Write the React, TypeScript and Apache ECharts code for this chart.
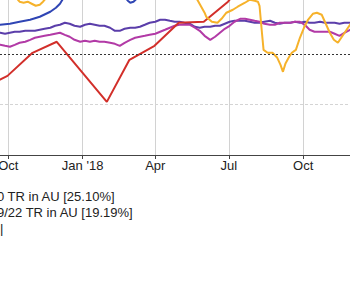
import React, { useEffect, useRef } from 'react';
import * as echarts from 'echarts';

// ---------- data ----------
const TICK_DATES = ['2017-10-01', '2018-01-01', '2018-04-01', '2018-07-01', '2018-10-01'];
const TICK_LABELS = ['Oct', "Jan '18", 'Apr', 'Jul', 'Oct'];

const LEGEND_LINES = ['0 TR in AU [25.10%]', '9/22 TR in AU [19.19%]', '|'];

const SHARED_DATES = [
  '2017-08-27', '2017-09-08',
  '2017-09-21', '2017-09-27',
  '2017-10-03', '2017-10-09', '2017-10-15', '2017-10-22', '2017-10-28',
  '2017-11-03', '2017-11-09', '2017-11-15', '2017-11-22', '2017-11-28',
  '2017-12-04', '2017-12-10', '2017-12-16', '2017-12-22', '2017-12-29',
  '2018-01-04', '2018-01-10', '2018-01-16', '2018-01-22', '2018-01-28',
  '2018-02-04', '2018-02-10', '2018-02-16', '2018-02-22',
  '2018-03-01', '2018-03-07', '2018-03-13', '2018-03-19', '2018-03-25',
  '2018-04-01', '2018-04-07', '2018-04-13', '2018-04-19', '2018-04-25',
  '2018-05-01', '2018-05-07', '2018-05-14', '2018-05-20', '2018-05-26',
  '2018-06-01', '2018-06-08', '2018-06-14', '2018-06-20', '2018-06-26',
  '2018-07-02', '2018-07-08', '2018-07-15', '2018-07-21', '2018-07-27',
  '2018-08-02', '2018-08-08', '2018-08-14', '2018-08-21', '2018-08-27',
  '2018-09-02', '2018-09-08', '2018-09-15', '2018-09-21', '2018-09-27',
  '2018-10-03', '2018-10-09', '2018-10-15', '2018-10-22', '2018-10-28',
  '2018-11-03', '2018-11-09', '2018-11-15', '2018-11-21', '2018-11-28',
  '2018-12-04',
];

const PURPLE_VALUES = [
  3.96, 4.16,
  4.16, 3.96,
  4.16, 4.36, 4.36, 4.55, 4.55,
  4.55, 4.75, 4.95, 5.15, 5.54,
  5.74, 6.14, 5.94, 5.54, 5.35,
  5.74, 5.94, 5.74, 5.54, 5.54,
  5.15, 4.55, 4.55, 4.95,
  5.15, 5.15, 5.35, 5.74, 6.14,
  6.34, 6.73, 6.73, 6.53, 6.34,
  6.34, 6.14, 5.94, 5.35, 5.15,
  5.35, 5.35, 5.54, 5.54, 5.94,
  6.34, 6.53, 6.53, 6.53, 6.34,
  6.14, 6.14, 6.34, 6.53, 6.14,
  5.94, 6.14, 6.14, 6.34, 6.14,
  6.34, 6.14, 6.14, 6.34, 6.14,
  6.14, 6.14, 5.94, 6.14, 6.14,
  6.14,
];

const MAGENTA_VALUES = [
  1.58, 1.78,
  1.78, 1.58,
  1.39, 1.78, 2.18, 2.38, 2.77,
  3.17, 3.37, 3.56, 3.76, 3.96,
  4.16, 3.76, 3.37, 2.77, 2.38,
  2.57, 2.38, 2.57, 2.38, 2.38,
  2.18, 1.98, 1.58, 2.18,
  2.77, 3.17, 3.37, 3.56, 3.76,
  3.96, 4.36, 4.75, 5.15, 5.54,
  5.74, 5.74, 5.74, 5.15, 4.55,
  3.56, 2.77, 3.37, 4.16, 4.95,
  5.54, 6.34, 6.93, 6.93, 6.73,
  6.53, 6.34, 5.94, 5.74, 5.74,
  6.14, 6.14, 6.14, 6.34, 6.34,
  5.74, 4.75, 4.36, 4.36, 4.36,
  4.36, 3.96, 3.56, 4.16, 4.75,
  5.15,
];

const RED_POINTS: [string, number][] = [
  ['2017-07-31', -8.5], ['2017-08-31', -6.73], ['2017-09-30', -4.36], ['2017-10-31', 0.2],
  ['2017-11-30', 2.38], ['2017-12-31', -3.56], ['2018-01-31', -9.5], ['2018-02-28', -1.19],
  ['2018-03-31', 1.58], ['2018-04-30', 6.14], ['2018-05-31', 6.34], ['2018-06-30', 10.3],
  ['2018-07-31', 16.5], ['2018-08-31', 18], ['2018-09-30', 17.5], ['2018-10-31', 17],
  ['2018-11-30', 17.5],
];

const BLUE_POINTS: [string, number][] = [
  ['2017-08-27', 5.35], ['2017-09-21', 5.74], ['2017-10-03', 5.94], ['2017-10-15', 6.34],
  ['2017-10-28', 6.73], ['2017-11-09', 7.33], ['2017-11-22', 8.32], ['2017-11-29', 9.11],
  ['2017-12-04', 9.9], ['2017-12-07', 10.69], ['2017-12-11', 11.68], ['2018-01-05', 17],
  ['2018-02-08', 15], ['2018-02-22', 11.29], ['2018-02-26', 10.5], ['2018-03-01', 10.1],
  ['2018-03-05', 10.3], ['2018-03-09', 10.9], ['2018-03-13', 11.68], ['2018-04-15', 17],
  ['2018-07-01', 18], ['2018-11-30', 19],
];

const ORANGE_POINTS: [string, number][] = [
  ['2017-08-27', 13], ['2017-09-21', 13.5], ['2017-10-09', 11.68], ['2017-10-13', 10.69],
  ['2017-10-15', 10.3], ['2017-10-20', 10.1], ['2017-10-25', 10.3], ['2017-10-30', 9.9],
  ['2017-11-04', 9.5], ['2017-11-09', 9.7], ['2017-11-13', 10.3], ['2017-11-15', 10.69],
  ['2017-11-19', 11.68], ['2017-12-15', 15], ['2018-02-01', 16], ['2018-03-15', 14.5],
  ['2018-04-20', 15], ['2018-05-15', 13], ['2018-05-20', 11.68], ['2018-05-23', 10.69],
  ['2018-06-01', 8.12], ['2018-06-03', 7.33], ['2018-06-10', 6.34], ['2018-06-17', 6.14],
  ['2018-06-22', 6.93], ['2018-06-28', 8.12], ['2018-07-06', 8.71], ['2018-07-12', 9.31],
  ['2018-07-21', 10.1], ['2018-07-27', 10.69], ['2018-08-02', 10.5], ['2018-08-06', 10.3],
  ['2018-08-08', 9.5], ['2018-08-11', 4.16], ['2018-08-13', 0.79], ['2018-08-18', 0.2],
  ['2018-08-24', 0.2], ['2018-08-30', -0.79], ['2018-09-03', -2.18], ['2018-09-06', -3.56],
  ['2018-09-09', -1.98], ['2018-09-13', -0.79], ['2018-09-17', 0.2], ['2018-09-22', 0.79],
  ['2018-09-27', 3.17], ['2018-10-02', 5.15], ['2018-10-07', 6.73], ['2018-10-13', 7.92],
  ['2018-10-18', 8.12], ['2018-10-24', 7.72], ['2018-10-29', 5.94], ['2018-11-03', 4.16],
  ['2018-11-08', 2.77], ['2018-11-13', 2.18], ['2018-11-18', 3.37], ['2018-11-23', 4.55],
  ['2018-11-28', 5.74], ['2018-11-30', 6.34],
];

const X_MIN = '2017-08-27';
const X_MAX = '2018-11-28';
const Y_MIN = -20;
const Y_MAX = 14;
const ZERO_LINE = 0;
const GRID_LINE = -10;

// ---------- helpers ----------
const toTs = (s: string) => {
  const [y, m, d] = s.split('-').map(Number);
  return Date.UTC(y, m - 1, d);
};
const pairs = (pts: [string, number][]) => pts.map(([d, v]) => [toTs(d), v]);
const zipShared = (vals: number[]) => SHARED_DATES.map((d, i) => [toTs(d), vals[i]]);

const FONT = '"Liberation Sans", Arial, sans-serif';
const TICK_TS = TICK_DATES.map(toTs);

export default function App() {
  const ref = useRef<HTMLDivElement>(null);

  useEffect(() => {
    if (!ref.current) return;
    const chart = echarts.init(ref.current, null, { renderer: 'svg' });
    const lineBase = {
      type: 'line',
      showSymbol: false,
      symbol: 'none',
      smooth: false,
      silent: true,
      clip: true,
    };
    chart.setOption({
      animation: false,
      grid: { left: 0, right: 0, top: 13, bottom: 95, containLabel: false },
      xAxis: {
        type: 'value',
        min: toTs(X_MIN),
        max: toTs(X_MAX),
        axisLine: { show: true, onZero: false, lineStyle: { color: '#444', width: 1 } },
        axisTick: { show: true, customValues: TICK_TS, length: 4, lineStyle: { color: '#444' } },
        axisLabel: {
          customValues: TICK_TS,
          hideOverlap: false,
          showMinLabel: true,
          showMaxLabel: true,
          margin: 4,
          fontSize: 13,
          fontFamily: FONT,
          color: '#222',
          formatter: (v: number) => {
            let best = 0;
            TICK_TS.forEach((t, i) => {
              if (Math.abs(t - v) < Math.abs(TICK_TS[best] - v)) best = i;
            });
            return TICK_LABELS[best];
          },
        },
        splitLine: { show: true, lineStyle: { color: '#d2d2d2', width: 1 } },
      },
      yAxis: {
        type: 'value',
        min: Y_MIN,
        max: Y_MAX,
        axisLine: { show: false },
        axisTick: { show: false },
        axisLabel: { show: false },
        splitLine: { show: false },
      },
      series: [
        {
          ...lineBase,
          name: 'blue',
          data: pairs(BLUE_POINTS),
          lineStyle: { color: '#2f45b4', width: 2 },
          markLine: {
            silent: true,
            symbol: ['none', 'none'],
            label: { show: false },
            data: [
              { yAxis: ZERO_LINE, lineStyle: { color: '#333', type: [2, 2], width: 1 } },
              { yAxis: GRID_LINE, lineStyle: { color: '#d4d4d4', type: [3, 2], width: 1 } },
            ],
          },
        },
        { ...lineBase, name: 'purple', data: zipShared(PURPLE_VALUES), lineStyle: { color: '#5b3eaa', width: 2 } },
        { ...lineBase, name: 'magenta', data: zipShared(MAGENTA_VALUES), lineStyle: { color: '#b23aa6', width: 2 } },
        { ...lineBase, name: 'red', data: pairs(RED_POINTS), lineStyle: { color: '#d22f2a', width: 2 } },
        { ...lineBase, name: 'orange', data: pairs(ORANGE_POINTS), lineStyle: { color: '#f6b22b', width: 2 } },
      ],
      graphic: LEGEND_LINES.map((t, i) => ({
        type: 'text',
        x: i === 2 ? 20 : 17,
        y: 226 + i * 16,
        silent: true,
        style: {
          text: t,
          fontSize: 13,
          fontFamily: FONT,
          fill: '#222',
          verticalAlign: 'middle',
          align: 'left',
        },
      })),
    });
    return () => chart.dispose();
  }, []);

  return (
    <div
      ref={ref}
      style={{ position: 'absolute', left: -20, top: -30, width: 370, height: 280 }}
    />
  );
}
